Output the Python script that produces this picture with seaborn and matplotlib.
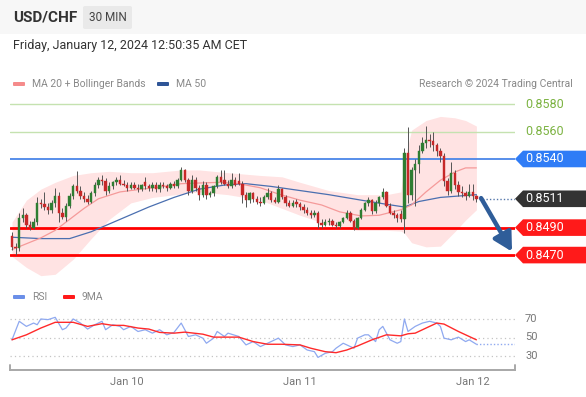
import numpy as np
import pandas as pd
import matplotlib
matplotlib.use("Agg")
import matplotlib.pyplot as plt
import matplotlib.transforms as mtransforms
from matplotlib.patches import Polygon, FancyBboxPatch, Rectangle
import seaborn as sns

# ---------------- data (prices in pips, 1 pip = 0.0001) ----------------
PIP = 10000.0
OPEN_P = [8484, 8476, 8475, 8497, 8499, 8492, 8490, 8494, 8508, 8507,
          8505, 8503, 8508, 8513, 8501, 8498, 8506, 8513, 8520, 8517,
          8513, 8511, 8509, 8515, 8521, 8525, 8524, 8517, 8520, 8523,
          8525, 8522, 8521, 8519, 8521, 8519, 8518, 8523, 8520, 8519,
          8521, 8518, 8521, 8520, 8519, 8522, 8520, 8525, 8532, 8525,
          8517, 8525, 8519, 8514, 8521, 8514, 8515, 8520, 8527, 8525,
          8522, 8520, 8525, 8524, 8522, 8514, 8510, 8515, 8511, 8509,
          8508, 8512, 8515, 8510, 8509, 8518, 8512, 8508, 8506, 8509,
          8507, 8505, 8503, 8501, 8499, 8501, 8493, 8492, 8494, 8495,
          8492, 8491, 8494, 8497, 8501, 8495, 8490, 8497, 8503, 8508,
          8510, 8502, 8508, 8512, 8516, 8506, 8501, 8499, 8500, 8496,
          8544, 8514, 8532, 8536, 8546, 8552, 8554, 8553, 8550, 8546,
          8542, 8524, 8517, 8530, 8521, 8516, 8515, 8513, 8516, 8513]
HIGH_P = [8487, 8479, 8501, 8504, 8501, 8495, 8497, 8512, 8511, 8516,
          8508, 8510, 8519, 8516, 8504, 8508, 8515, 8522, 8531, 8520,
          8516, 8514, 8517, 8523, 8527, 8528, 8526, 8523, 8524, 8527,
          8528, 8525, 8523, 8523, 8523, 8522, 8522, 8527, 8522, 8523,
          8523, 8523, 8523, 8522, 8523, 8524, 8526, 8534, 8533, 8526,
          8528, 8527, 8521, 8524, 8523, 8517, 8521, 8528, 8532, 8532,
          8525, 8530, 8527, 8530, 8524, 8516, 8516, 8516, 8513, 8512,
          8514, 8519, 8517, 8512, 8521, 8519, 8514, 8510, 8510, 8511,
          8509, 8507, 8505, 8503, 8503, 8502, 8496, 8496, 8497, 8496,
          8494, 8495, 8498, 8503, 8502, 8496, 8498, 8504, 8509, 8512,
          8511, 8510, 8513, 8519, 8517, 8508, 8503, 8501, 8503, 8548,
          8563, 8534, 8540, 8550, 8556, 8564, 8558, 8560, 8552, 8548,
          8544, 8526, 8538, 8532, 8524, 8520, 8517, 8522, 8522, 8514]
LOW_P = [8474, 8470, 8473, 8494, 8490, 8488, 8489, 8492, 8504, 8503,
         8500, 8501, 8505, 8494, 8496, 8495, 8504, 8511, 8515, 8511,
         8509, 8507, 8508, 8513, 8519, 8521, 8514, 8515, 8518, 8521,
         8521, 8520, 8517, 8518, 8518, 8516, 8517, 8518, 8517, 8517,
         8516, 8516, 8519, 8517, 8518, 8519, 8519, 8524, 8523, 8514,
         8515, 8517, 8510, 8512, 8511, 8512, 8513, 8519, 8522, 8521,
         8519, 8519, 8520, 8521, 8508, 8505, 8508, 8509, 8507, 8506,
         8507, 8511, 8509, 8508, 8508, 8511, 8506, 8505, 8505, 8505,
         8503, 8501, 8499, 8497, 8498, 8490, 8490, 8491, 8492, 8491,
         8490, 8490, 8493, 8496, 8494, 8488, 8489, 8496, 8502, 8506,
         8500, 8501, 8506, 8511, 8505, 8500, 8497, 8494, 8494, 8486,
         8508, 8510, 8506, 8530, 8544, 8548, 8549, 8546, 8542, 8538,
         8520, 8514, 8515, 8518, 8513, 8512, 8510, 8512, 8510, 8509]
CLOSE_P = [8476, 8475, 8497, 8499, 8492, 8490, 8494, 8508, 8507, 8505,
           8503, 8508, 8513, 8501, 8498, 8506, 8513, 8520, 8517, 8513,
           8511, 8509, 8515, 8521, 8525, 8524, 8517, 8520, 8523, 8525,
           8522, 8521, 8519, 8521, 8519, 8518, 8521, 8520, 8519, 8521,
           8518, 8521, 8520, 8519, 8522, 8520, 8525, 8532, 8525, 8517,
           8525, 8519, 8514, 8521, 8514, 8515, 8520, 8527, 8523, 8522,
           8520, 8525, 8521, 8522, 8514, 8510, 8515, 8511, 8509, 8508,
           8512, 8515, 8510, 8509, 8518, 8512, 8508, 8506, 8508, 8507,
           8505, 8503, 8501, 8499, 8501, 8493, 8492, 8494, 8495, 8492,
           8491, 8494, 8497, 8501, 8495, 8490, 8497, 8503, 8508, 8510,
           8502, 8508, 8512, 8516, 8506, 8501, 8499, 8497, 8496, 8544,
           8514, 8532, 8536, 8546, 8552, 8554, 8553, 8550, 8546, 8542,
           8524, 8517, 8530, 8521, 8516, 8515, 8513, 8516, 8513, 8511]

MA50_IDX = [0, 8, 16, 22, 30, 38, 45, 52, 59, 65, 72, 80, 88, 97, 104, 109, 113, 119, 124, 129]
MA50_P = [8483, 8482, 8482, 8487, 8496, 8505, 8512, 8518, 8521, 8522, 8520, 8517, 8514, 8510, 8507, 8505, 8509, 8512, 8513, 8514]

MA20_IDX = [0, 8, 12, 16, 20, 24, 30, 36, 41, 47, 52, 58, 63, 69, 74, 80, 86, 91, 97, 102, 108, 111, 115, 119, 123, 126, 129]
MA20_P = [8474, 8482.5, 8488, 8496, 8504, 8511, 8516, 8518, 8519.5, 8522, 8522.5, 8523, 8522, 8519, 8514.5, 8510, 8506.5, 8501.5, 8498.5, 8499, 8503, 8506.5, 8516, 8524.5, 8530.5, 8533.5, 8533.5]

BB_IDX = [0, 4, 8, 12, 17, 22, 27, 33, 39, 47, 52, 60, 69, 75, 80, 88, 96, 104, 108, 109, 111, 115, 119, 123, 126, 129]
BB_UP_P = [8494, 8510, 8518, 8523, 8528, 8530, 8531, 8530, 8530, 8532, 8532, 8530, 8528, 8527, 8523, 8517, 8514, 8514, 8516, 8539, 8561, 8568, 8571, 8570, 8568, 8564]
BB_LO_P = [8469, 8461, 8455, 8456, 8467, 8482, 8496, 8508, 8512, 8514.5, 8516, 8514, 8510, 8504, 8499, 8492, 8488, 8488, 8487.5, 8486, 8479, 8476, 8476.5, 8487, 8495.5, 8503]

RSI_IDX = [0, 2, 4, 6, 7, 8, 10, 12, 14, 15, 17, 19, 21, 23, 25, 26, 28, 30, 31, 33, 35, 37, 39, 41, 43, 45, 47,
           49, 51, 53, 54, 56, 57, 59, 60, 63, 65, 67, 69, 71, 74, 76, 78, 80, 82, 84, 85, 87, 89, 90, 92, 95, 96,
           98, 99, 101, 102, 103, 105, 107, 108, 109, 110, 112, 114, 116, 118, 119, 120, 122, 124, 126, 127, 129]
RSI_VAL = [47.5, 67.5, 62, 65.6, 63.8, 70, 69.3, 71.8, 58.4, 60.2, 70, 65.6, 59.1, 63.8, 67.5, 58.4, 63.8, 62, 58.4,
           62, 56.5, 58.4, 54.7, 58.4, 52.9, 55.5, 65.6, 51.1, 52.9, 49.3, 43.8, 49.3, 56.5, 51.1, 54.7, 51.1, 42,
           45.6, 40.2, 43.8, 49.3, 42, 40.2, 42, 36.5, 34.7, 28.5, 32.9, 34.7, 38.4, 43.8, 38.4, 49.3, 52.9, 52.9,
           45.6, 58.4, 62, 47.5, 43.8, 45.6, 70, 56.5, 62, 65.6, 67.5, 65.6, 62, 49.3, 47.5, 50.4, 45.6, 47.5, 42.7]

MA9_IDX = [0, 4, 8, 12, 17, 21, 25, 28, 31, 35, 38, 41, 45, 48, 53, 56, 61, 63, 67, 71, 75, 80, 83, 87, 90, 93,
           96, 100, 104, 108, 110, 112, 116, 118, 120, 124, 129]
MA9_VAL = [47.5, 52.9, 60.2, 66.4, 66.4, 62, 64.9, 63.1, 63.1, 60.2, 59.1, 55.5, 54.7, 55.8, 53.6, 50.4, 50.4, 50.4,
           45.6, 42.7, 42.7, 42, 38.4, 34.7, 33.6, 36.5, 40.9, 47.5, 52.9, 51.8, 54, 54.7, 62, 65.6, 64.5, 56.5, 47.5]

LEVELS = [0.8580, 0.8560, 0.8540, 0.8490, 0.8470]
LEVEL_LABELS = ["0.8580", "0.8560", "0.8540", "0.8490", "0.8470"]
LAST_PRICE = 0.8511
LAST_LABEL = "0.8511"
RSI_GRID = [70, 50, 30]
X_TICKS = [32, 80, 128]
X_TICK_LABELS = ["Jan 10", "Jan 11", "Jan 12"]
ARROW_FROM = (130.3, 0.85115)
ARROW_TO = (138.9, 0.84725)

# ---------------- style ----------------
sns.set_style("white")
plt.rcParams['font.family'] = ['Roboto', 'DejaVu Sans']

W, H = 586, 397
fig = plt.figure(figsize=(W / 100, H / 100), dpi=100)
fig.patch.set_facecolor("white")

def fx(px):
    return px / W

def fy(py):
    return 1 - py / H

# header background
fig.patches.append(Rectangle((0, fy(34)), 1, 34 / H, transform=fig.transFigure,
                             facecolor="#f7f7f7", edgecolor="none", zorder=0))
fig.text(fx(13), fy(18), "USD/CHF", fontsize=11, fontweight="bold", color="#333333", va="center")
fig.patches.append(FancyBboxPatch((fx(83), fy(29)), 49 / W, 23 / H, transform=fig.transFigure,
                                  boxstyle="round,pad=0,rounding_size=0.004",
                                  facecolor="#e9e9e9", edgecolor="none"))
fig.text(fx(107.5), fy(17.5), "30 MIN", fontsize=8.5, color="#444444", va="center", ha="center")
fig.text(fx(13), fy(46), "Friday, January 12, 2024 12:50:35 AM CET", fontsize=9, color="#333333", va="center")

# legends
def legend_patch(x0, y, color):
    fig.patches.append(FancyBboxPatch((fx(x0), fy(y + 2)), 12 / W, 4 / H, transform=fig.transFigure,
                                      boxstyle="round,pad=0,rounding_size=0.002",
                                      facecolor=color, edgecolor="none"))

legend_patch(13, 84, "#f58b8b")
fig.text(fx(32), fy(84), "MA 20 + Bollinger Bands", fontsize=7.5, color="#888888", va="center")
legend_patch(157, 84, "#2f5597")
fig.text(fx(176), fy(84), "MA 50", fontsize=7.5, color="#888888", va="center")
fig.text(fx(573), fy(84), "Research \u00a9 2024 Trading Central", fontsize=7.5, color="#888888",
         va="center", ha="right")
legend_patch(13, 297, "#6b8fe8")
fig.text(fx(32), fy(297), "RSI", fontsize=7.5, color="#888888", va="center")
legend_patch(63, 297, "#ff1a1a")
fig.text(fx(82), fy(297), "9MA", fontsize=7.5, color="#888888", va="center")

# ---------------- main price axes ----------------
PX_PER_IDX = 3.6
X_LEFT, X_RIGHT = 10, 515
xlim = ((X_LEFT - 12) / PX_PER_IDX, (X_RIGHT - 12) / PX_PER_IDX)
YLIM = (0.84482, 0.85866)

ax = fig.add_axes([fx(X_LEFT), fy(285), (X_RIGHT - X_LEFT) / W, 190 / H])

idx = np.arange(len(CLOSE_P))
o = np.array(OPEN_P) / PIP
h = np.array(HIGH_P) / PIP
l = np.array(LOW_P) / PIP
c = np.array(CLOSE_P) / PIP

# Bollinger band
ax.fill_between(BB_IDX, np.array(BB_LO_P) / PIP, np.array(BB_UP_P) / PIP,
                color="#ffe0e0", alpha=0.9, linewidth=0, zorder=1)

# level lines
level_colors = ["#c5e2b0", "#c5e2b0", "#4a86e8", "#ff0000", "#ff0000"]
level_lw = [1.0, 1.0, 1.3, 2.0, 2.0]
for lv, col, lw in zip(LEVELS, level_colors, level_lw):
    ax.axhline(lv, color=col, lw=lw, zorder=2)

# moving averages via seaborn
ma = pd.DataFrame({"i": MA50_IDX, "v": np.array(MA50_P) / PIP})
sns.lineplot(data=ma, x="i", y="v", ax=ax, color="#4a6fb0", lw=0.9, zorder=3, estimator=None)
ma20 = pd.DataFrame({"i": MA20_IDX, "v": np.array(MA20_P) / PIP})
sns.lineplot(data=ma20, x="i", y="v", ax=ax, color="#f59a9a", lw=0.9, zorder=3, estimator=None)
ax.set_xlim(*xlim)
ax.set_ylim(*YLIM)
ax.axis("off")

# candles
up = c >= o
ax.vlines(idx, l, h, color="#555555", lw=0.7, zorder=4)
body = np.maximum(np.abs(c - o), 0.00004)
ax.bar(idx[up], body[up], bottom=np.minimum(o, c)[up], width=0.72, color="#2e7d32",
       edgecolor="#2e7d32", lw=0.3, zorder=5)
ax.bar(idx[~up], body[~up], bottom=np.minimum(o, c)[~up], width=0.72, color="#c62828",
       edgecolor="#c62828", lw=0.3, zorder=5)

# last price dotted line
ax.hlines(LAST_PRICE, idx[-1] + 0.6, xlim[1], color="#5577aa", lw=1.0, linestyles=(0, (1, 1.5)), zorder=3)

# arrow
ax.annotate("", xy=ARROW_TO, xytext=ARROW_FROM,
            arrowprops=dict(arrowstyle="-|>,head_length=1.1,head_width=0.6", color="#2f5d99",
                            lw=3.2, shrinkA=0, shrinkB=0), zorder=6, annotation_clip=False)

# right-side labels
bt = mtransforms.blended_transform_factory(ax.transAxes, ax.transData)
def afrac(px):
    return (px - X_LEFT) / (X_RIGHT - X_LEFT)

half = 8.3 / 1.373 / PIP
def tag(price, text, color):
    pts = [(afrac(515), price), (afrac(523), price + half), (afrac(590), price + half),
           (afrac(590), price - half), (afrac(523), price - half)]
    ax.add_patch(Polygon(pts, closed=True, transform=bt, facecolor=color, edgecolor="none",
                         clip_on=False, zorder=6))
    ax.text(afrac(525), price, text, transform=bt, color="white", fontsize=9, va="center",
            ha="left", clip_on=False, zorder=7)

for lv, lab in zip(LEVELS[:2], LEVEL_LABELS[:2]):
    ax.text(afrac(525), lv, lab, transform=bt, color="#7cb342", fontsize=9, va="center", ha="left",
            clip_on=False)
tag(LEVELS[2], LEVEL_LABELS[2], "#2f7cf6")
tag(LAST_PRICE, LAST_LABEL, "#333333")
tag(LEVELS[3], LEVEL_LABELS[3], "#ff1a1a")
tag(LEVELS[4], LEVEL_LABELS[4], "#ff1a1a")

# ---------------- RSI axes ----------------
ax2 = fig.add_axes([fx(X_LEFT), fy(370), (X_RIGHT - X_LEFT) / W, 65 / H])
for g in RSI_GRID:
    ax2.axhline(g, color="#c4c4c4", lw=0.9, linestyle=(0, (1, 2.5)), zorder=1)
rsi = pd.DataFrame({"i": RSI_IDX, "v": RSI_VAL})
sns.lineplot(data=rsi, x="i", y="v", ax=ax2, color="#8fa9f0", lw=0.9, zorder=3, estimator=None)
ma9 = pd.DataFrame({"i": MA9_IDX, "v": MA9_VAL})
sns.lineplot(data=ma9, x="i", y="v", ax=ax2, color="#ff2a2a", lw=1.0, zorder=4, estimator=None)
ax2.hlines(RSI_VAL[-1], RSI_IDX[-1], xlim[1], color="#8fa9f0", lw=1.0, linestyles=(0, (1, 1.5)))
ax2.set_xlim(*xlim)
ax2.set_ylim(14.9, 85.1)
ax2.set_xlabel("")
ax2.set_ylabel("")
for s in ["top", "left", "right"]:
    ax2.spines[s].set_visible(False)
ax2.spines["bottom"].set_color("#a8a8a8")
ax2.spines["bottom"].set_linewidth(1.4)
ax2.set_yticks([])
ax2.set_xticks(X_TICKS)
ax2.set_xticklabels(X_TICK_LABELS, fontsize=8, color="#777777")
ax2.tick_params(axis="x", length=0, pad=5)
for xe in [0.0, 1.0]:
    ax2.plot([xe, xe], [0, 0.08], transform=ax2.transAxes, color="#a8a8a8", lw=1.4, clip_on=False)
bt2 = mtransforms.blended_transform_factory(ax2.transAxes, ax2.transData)
for g in RSI_GRID:
    ax2.text(afrac(525), g, str(g), transform=bt2, color="#777777", fontsize=8, va="center",
             ha="left", clip_on=False)

fig.savefig("out.png", dpi=100, facecolor="white")
